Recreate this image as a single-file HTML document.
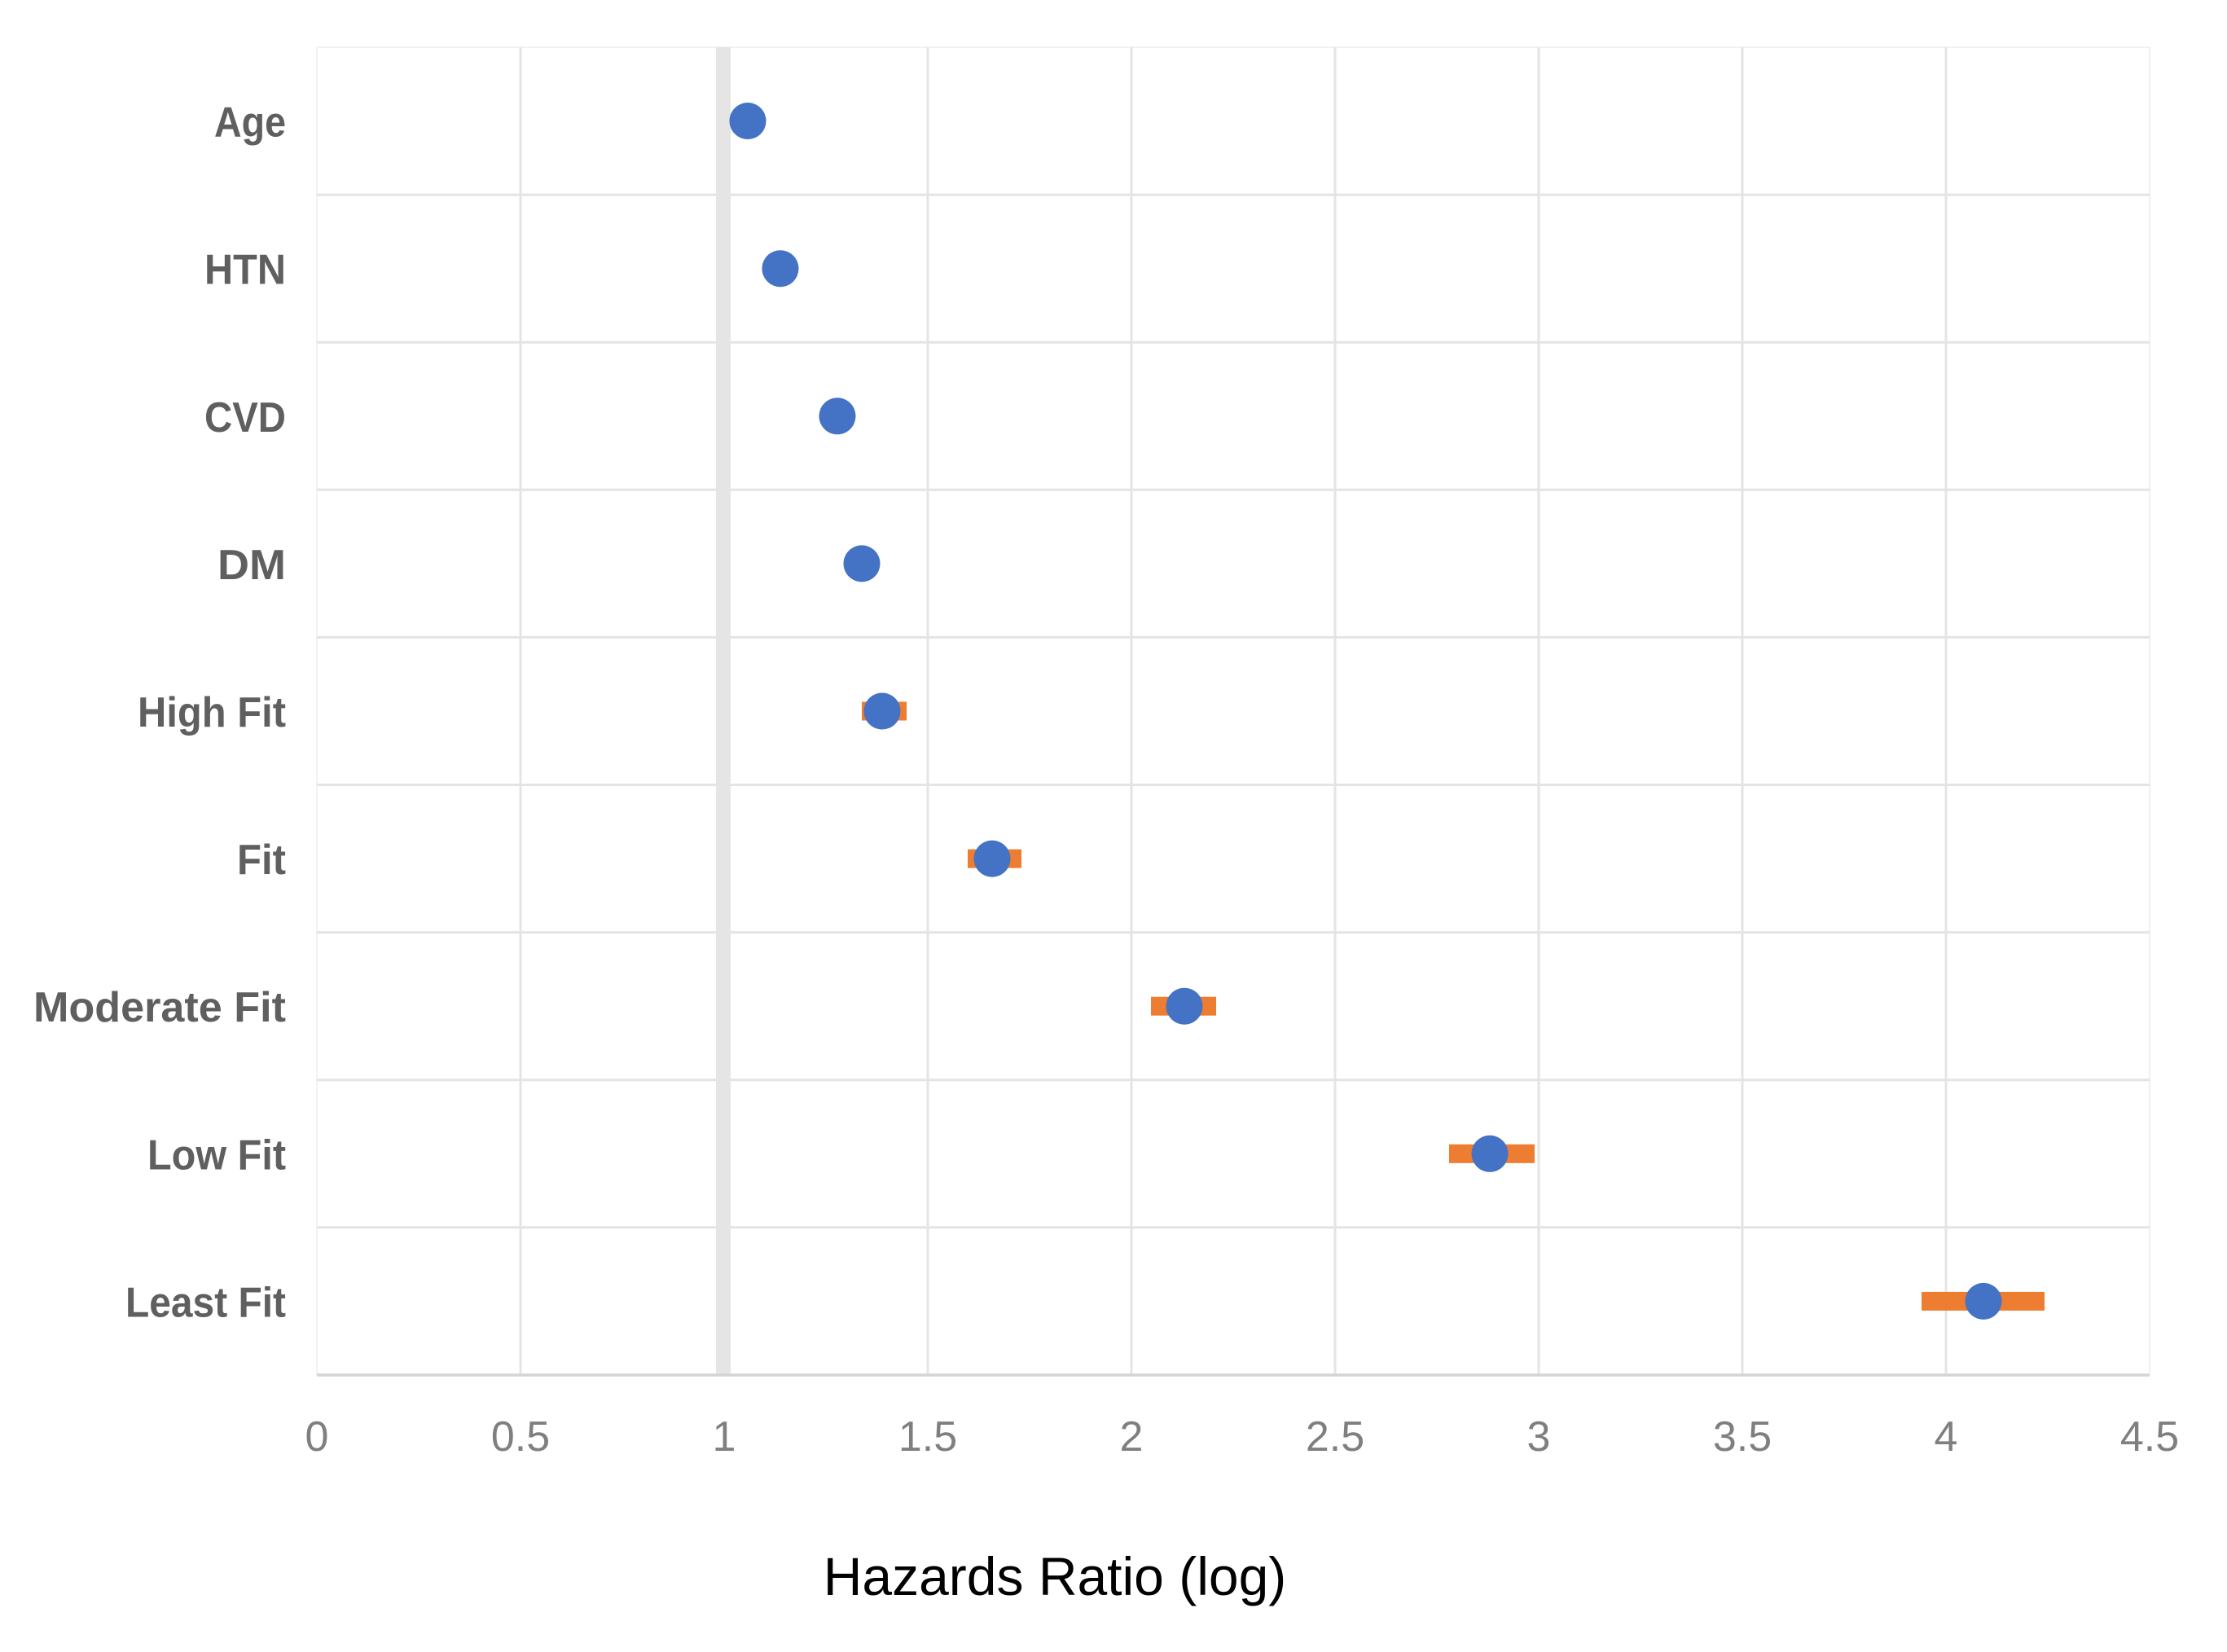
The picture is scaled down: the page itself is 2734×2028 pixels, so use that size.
<!DOCTYPE html>
<html>
<head>
<meta charset="utf-8">
<style>
  html,body{margin:0;padding:0;background:#fff;}
  svg{display:block;}
</style>
</head>
<body>
<svg width="2734" height="2028" viewBox="0 0 2734 2028" xmlns="http://www.w3.org/2000/svg">
  <rect x="0" y="0" width="2734" height="2028" fill="#ffffff"/>
  <!-- plot frame (faint) -->
  <line x1="389" y1="58" x2="2639" y2="58" stroke="#f2f2f2" stroke-width="2"/>
  <line x1="389" y1="58" x2="389" y2="1688" stroke="#f2f2f2" stroke-width="2"/>
  <line x1="2639" y1="58" x2="2639" y2="1688" stroke="#f0f0f0" stroke-width="2"/>
  <!-- horizontal gridlines -->
  <g stroke="#e4e4e4" stroke-width="3">
    <line x1="389" y1="239.1" x2="2639" y2="239.1"/>
    <line x1="389" y1="420.2" x2="2639" y2="420.2"/>
    <line x1="389" y1="601.3" x2="2639" y2="601.3"/>
    <line x1="389" y1="782.4" x2="2639" y2="782.4"/>
    <line x1="389" y1="963.5" x2="2639" y2="963.5"/>
    <line x1="389" y1="1144.6" x2="2639" y2="1144.6"/>
    <line x1="389" y1="1325.7" x2="2639" y2="1325.7"/>
    <line x1="389" y1="1506.8" x2="2639" y2="1506.8"/>
  </g>
  <!-- vertical gridlines -->
  <g stroke="#e4e4e4" stroke-width="3">
    <line x1="639" y1="58" x2="639" y2="1688"/>
    <line x1="1139" y1="58" x2="1139" y2="1688"/>
    <line x1="1389" y1="58" x2="1389" y2="1688"/>
    <line x1="1639" y1="58" x2="1639" y2="1688"/>
    <line x1="1889" y1="58" x2="1889" y2="1688"/>
    <line x1="2139" y1="58" x2="2139" y2="1688"/>
    <line x1="2389" y1="58" x2="2389" y2="1688"/>
  </g>
  <!-- reference line at 1 -->
  <rect x="879" y="58" width="18" height="1630" fill="#e5e5e5"/>
  <!-- x axis line -->
  <line x1="389" y1="1688" x2="2639" y2="1688" stroke="#d4d4d4" stroke-width="3.5"/>

  <!-- error bars -->
  <g fill="#ED7D31">
    <rect x="1058" y="861.5" width="55" height="23"/>
    <rect x="1188" y="1042.6" width="66" height="23"/>
    <rect x="1413" y="1223.7" width="80" height="23"/>
    <rect x="1779" y="1404.8" width="105" height="23"/>
    <rect x="2359" y="1585.9" width="151" height="23"/>
  </g>
  <!-- points -->
  <g fill="#4472C4">
    <circle cx="918" cy="148.5" r="22.5"/>
    <circle cx="958" cy="329.7" r="22.5"/>
    <circle cx="1028" cy="510.8" r="22.5"/>
    <circle cx="1058" cy="691.9" r="22.5"/>
    <circle cx="1083" cy="873" r="22.5"/>
    <circle cx="1218" cy="1054.1" r="22.5"/>
    <circle cx="1454" cy="1235.2" r="22.5"/>
    <circle cx="1829" cy="1416.3" r="22.5"/>
    <circle cx="2435" cy="1597.4" r="22.5"/>
  </g>

  <!-- y labels -->
  <g font-family="'Liberation Sans', sans-serif" font-weight="bold" font-size="52" fill="#5f5f5f" text-anchor="end">
    <text x="351" y="167.5" textLength="88" lengthAdjust="spacingAndGlyphs">Age</text>
    <text x="351" y="348.7" textLength="100" lengthAdjust="spacingAndGlyphs">HTN</text>
    <text x="351" y="529.8" textLength="100" lengthAdjust="spacingAndGlyphs">CVD</text>
    <text x="351" y="710.9" textLength="84" lengthAdjust="spacingAndGlyphs">DM</text>
    <text x="351" y="892" textLength="182" lengthAdjust="spacingAndGlyphs">High Fit</text>
    <text x="351" y="1073.1" textLength="60" lengthAdjust="spacingAndGlyphs">Fit</text>
    <text x="351" y="1254.2" textLength="310" lengthAdjust="spacingAndGlyphs">Moderate Fit</text>
    <text x="351" y="1435.3" textLength="170" lengthAdjust="spacingAndGlyphs">Low Fit</text>
    <text x="351" y="1616.4" textLength="197" lengthAdjust="spacingAndGlyphs">Least Fit</text>
  </g>

  <!-- x tick labels -->
  <g font-family="'Liberation Sans', sans-serif" font-size="52" fill="#7f7f7f" text-anchor="middle">
    <text x="389" y="1781">0</text>
    <text x="639" y="1781">0.5</text>
    <text x="889" y="1781">1</text>
    <text x="1139" y="1781">1.5</text>
    <text x="1389" y="1781">2</text>
    <text x="1639" y="1781">2.5</text>
    <text x="1889" y="1781">3</text>
    <text x="2139" y="1781">3.5</text>
    <text x="2389" y="1781">4</text>
    <text x="2639" y="1781">4.5</text>
  </g>

  <!-- x axis title -->
  <text x="1295" y="1958" font-family="'Liberation Sans', sans-serif" font-size="66" fill="#000000" text-anchor="middle">Hazards Ratio (log)</text>
</svg>
</body>
</html>
